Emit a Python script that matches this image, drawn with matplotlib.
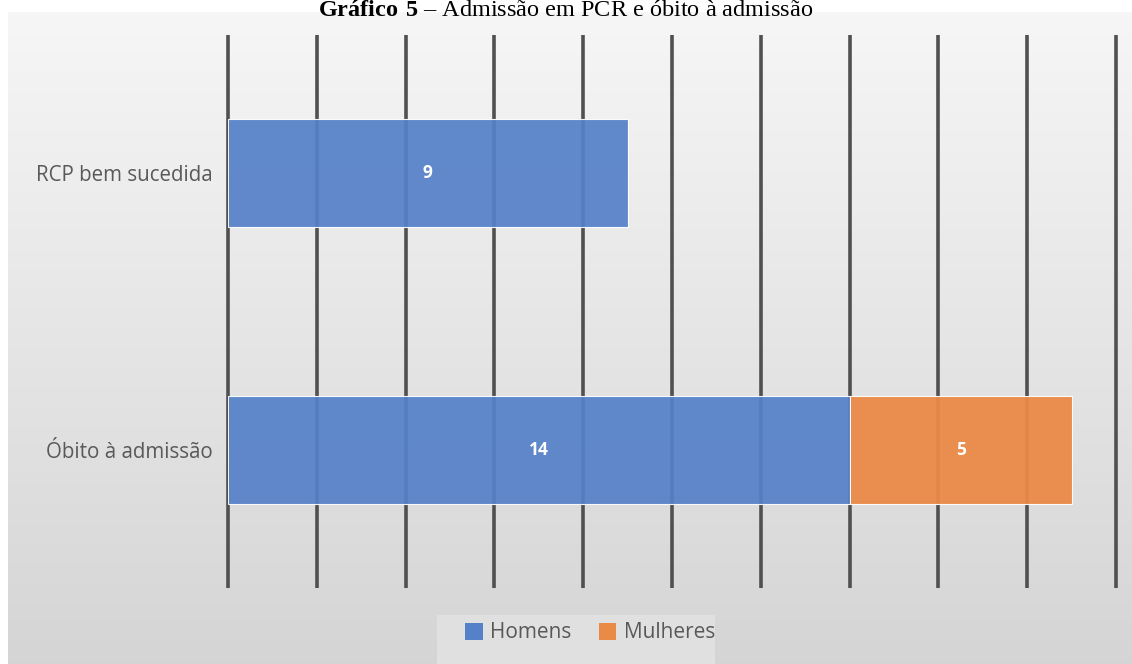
import numpy as np
import matplotlib
matplotlib.use("Agg")
import matplotlib.pyplot as plt
from matplotlib.patches import Rectangle

# data
categories = ["Óbito à admissão", "RCP bem sucedida"]
homens = [14, 9]
mulheres = [5, 0]
series_names = ["Homens", "Mulheres"]
grid_ticks = list(range(0, 21, 2))

blue = "#5581C9"
orange = "#EA8A47"
text_grey = "#595959"

plt.rcParams["mathtext.fontset"] = "custom"
plt.rcParams["mathtext.bf"] = "Liberation Serif:bold"
plt.rcParams["mathtext.rm"] = "Liberation Serif"

fig = plt.figure(figsize=(11.32, 6.64), dpi=100)
W, H = 1132, 664

# grey gradient background of the chart area
bg = fig.add_axes([8 / W, 0, 1 - 8 / W, (H - 12) / H], zorder=0)
grad = np.linspace(0.965, 0.835, 256).reshape(-1, 1)
bg.imshow(np.dstack([grad, grad, grad]), aspect="auto", extent=(0, 1, 0, 1))
bg.set_axis_off()

# title at the top edge
fig.text(0.5, 1.0, r"$\bf{Gráfico\ 5}$ – Admissão em PCR e óbito à admissão",
         ha="center", va="top", fontsize=17.5, family="Liberation Serif",
         color="black", zorder=5)

ax = fig.add_axes([228 / W, 76 / H, 888 / W, 553 / H], zorder=1)
ax.patch.set_alpha(0)
y = np.arange(len(categories))

ax.vlines(grid_ticks, -0.5, 1.5, colors="#505050", linewidth=2.6,
          zorder=1, clip_on=False)

bh = 0.39
b1 = ax.barh(y, homens, height=bh, color=blue, alpha=0.93,
             edgecolor="white", linewidth=0.8, zorder=2, label=series_names[0])
b2 = ax.barh(y, mulheres, left=homens, height=bh, color=orange, alpha=0.95,
             edgecolor="white", linewidth=0.8, zorder=2, label=series_names[1])

for i in range(len(categories)):
    ax.text(homens[i] / 2, y[i], str(homens[i]), ha="center", va="center",
            color="white", fontsize=12.5, fontweight="bold", family="Open Sans", zorder=3)
    if mulheres[i] > 0:
        ax.text(homens[i] + mulheres[i] / 2, y[i], str(mulheres[i]), ha="center",
                va="center", color="white", fontsize=12.5, fontweight="bold",
                family="Open Sans", zorder=3)

ax.set_xlim(0, 20)
ax.set_ylim(-0.5, 1.5)
ax.set_yticks(y)
ax.set_yticklabels(categories, fontsize=14.8, color=text_grey, family="Open Sans")
ax.set_xticks([])
ax.tick_params(axis="y", length=0, pad=11)
for s in ax.spines.values():
    s.set_visible(False)

# legend box at the bottom
fig.patches.append(Rectangle((437 / W, 0), 278 / W, 49 / H, transform=fig.transFigure,
                             facecolor="#e0e0e0", edgecolor="none", zorder=2))
leg = fig.legend(handles=[b1, b2], labels=series_names, loc="center",
                 bbox_to_anchor=(590 / W, 31 / H), ncol=2, frameon=False,
                 handlelength=0.85, handleheight=0.85,
                 handletextpad=0.35, columnspacing=1.3, borderpad=0.2,
                 prop={"family": "Open Sans", "size": 15})
leg.set_zorder(3)
for t in leg.get_texts():
    t.set_color(text_grey)
for h in leg.legend_handles:
    h.set_alpha(1)
    h.set_edgecolor("none")

fig.savefig("out.png", dpi=100, facecolor="white")
